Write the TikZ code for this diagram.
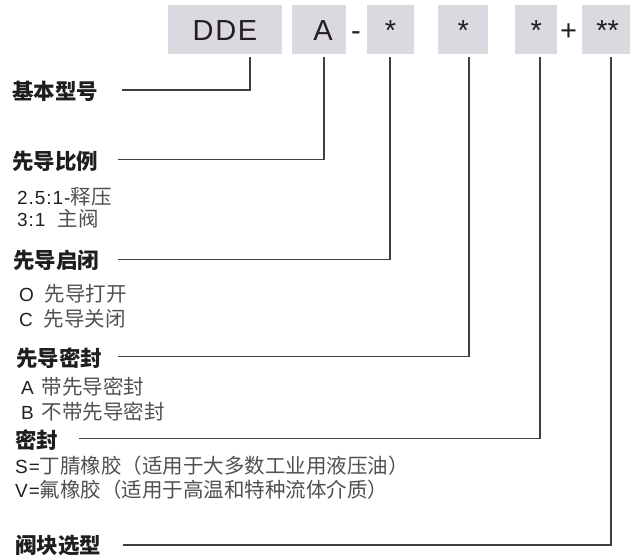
\documentclass[tikz,border=0pt]{standalone}
\usepackage{fontspec}
\setmainfont{Liberation Sans}
\newfontfamily\cjk{Noto Sans CJK SC}
\newfontfamily\latb[LetterSpace=5]{Liberation Sans}
\definecolor{boxgray}{HTML}{DBD9DF}
\definecolor{ink}{HTML}{231F20}
\definecolor{headc}{HTML}{1E1E1E}
\definecolor{cjkgray}{HTML}{505050}
\definecolor{linec}{HTML}{404040}
\newcommand\mylat[1]{{\latb\fontsize{19}{19}\selectfont #1}}
\newcommand\mycjk[1]{{\cjk\fontsize{20.5}{21}\selectfont\color{cjkgray}#1}}
\tikzset{
  codebox/.style={fill=boxgray, draw=none, inner sep=0pt, text height=21pt, text depth=0pt,
    minimum height=49pt, font=\fontsize{29}{29}\selectfont, text=ink},
  sym/.style={anchor=base, inner sep=0pt, font=\fontsize{29}{29}\selectfont, text=ink},
  heading/.style={anchor=base west, inner sep=0pt, font=\cjk\bfseries\fontsize{21.5}{22}\selectfont, text=headc},
  body/.style={anchor=base west, inner sep=0pt, text=ink},
  conn/.style={draw=linec, line width=1.2pt}
}
\begin{document}
\begin{tikzpicture}[x=1pt,y=-1pt]
\useasboundingbox (0,0) rectangle (633,557);
% code boxes
\node[codebox, minimum width=113.4pt] (b1) at (225,29.5) {\addfontfeature{LetterSpace=6}DDE};
\node[codebox, minimum width=53.4pt] (b2) at (319,29.5) {\hspace{8pt}A};
\node[sym] (dash) at (356,40) {-};
\node[codebox, minimum width=47.6pt] (b3) at (390.5,29.5) {*\hspace{7pt}};
\node[codebox, minimum width=50pt] (b4) at (463.3,29.5) {*\hspace{4pt}};
\node[codebox, minimum width=42.3pt] (b5) at (536.2,29.5) {*\hspace{4pt}};
\node[sym] (plus) at (568.7,40) {+};
\node[codebox, minimum width=47.7pt] (b6) at (606.2,29.5) {\hspace{3pt}**};
% headings
\node[heading] (h1) at (12,99.9) {基本型号};
\node[heading] (h2) at (12,169.9) {先导比例};
\node[heading] (h3) at (13,268.9) {先导启闭};
\node[heading] (h4) at (16,366.2) {先导密封};
\node[heading] (h5) at (15,448.2) {密封};
\node[heading] (h6) at (15,553.2) {阀块选型};
% body lines
\node[body] (t1) at (17,204) {\mylat{2.5:1-}\mycjk{释压}};
\node[body] (t2) at (17,226.5) {\mylat{3:1}\hspace{12pt}\mycjk{主阀}};
\node[body] (t3) at (19,301.5) {\mylat{O}\hspace{11pt}\mycjk{先导打开}};
\node[body] (t4) at (19,326.5) {\mylat{C}\hspace{11pt}\mycjk{先导关闭}};
\node[body] (t5) at (21,394) {\mylat{A}\hspace{8pt}\mycjk{带先导密封}};
\node[body] (t6) at (21,419.5) {\mylat{B}\hspace{8pt}\mycjk{不带先导密封}};
\node[body] (t7) at (15,473.5) {\mylat{S=}\mycjk{丁腈橡胶（适用于大多数工业用液压油）}};
\node[body] (t8) at (15,497.5) {\mylat{V=}\mycjk{氟橡胶（适用于高温和特种流体介质）}};
% connector end points
\coordinate (v1) at (250,57);
\coordinate (v2) at (324,57);
\coordinate (v3) at (390,57);
\coordinate (v4) at (469,57);
\coordinate (v5) at (540,57);
\coordinate (v6) at (611,57);
\coordinate (e1) at (121.7,90);
\coordinate (e2) at (118,159.7);
\coordinate (e3) at (118,259.3);
\coordinate (e4) at (118,356.7);
\coordinate (e5) at (79,438.3);
\coordinate (e6) at (123,545);
\draw[conn] (v1) |- (e1);
\draw[conn] (v2) |- (e2);
\draw[conn] (v3) |- (e3);
\draw[conn] (v4) |- (e4);
\draw[conn] (v5) |- (e5);
\draw[conn] (v6) |- (e6);
\end{tikzpicture}
\end{document}
